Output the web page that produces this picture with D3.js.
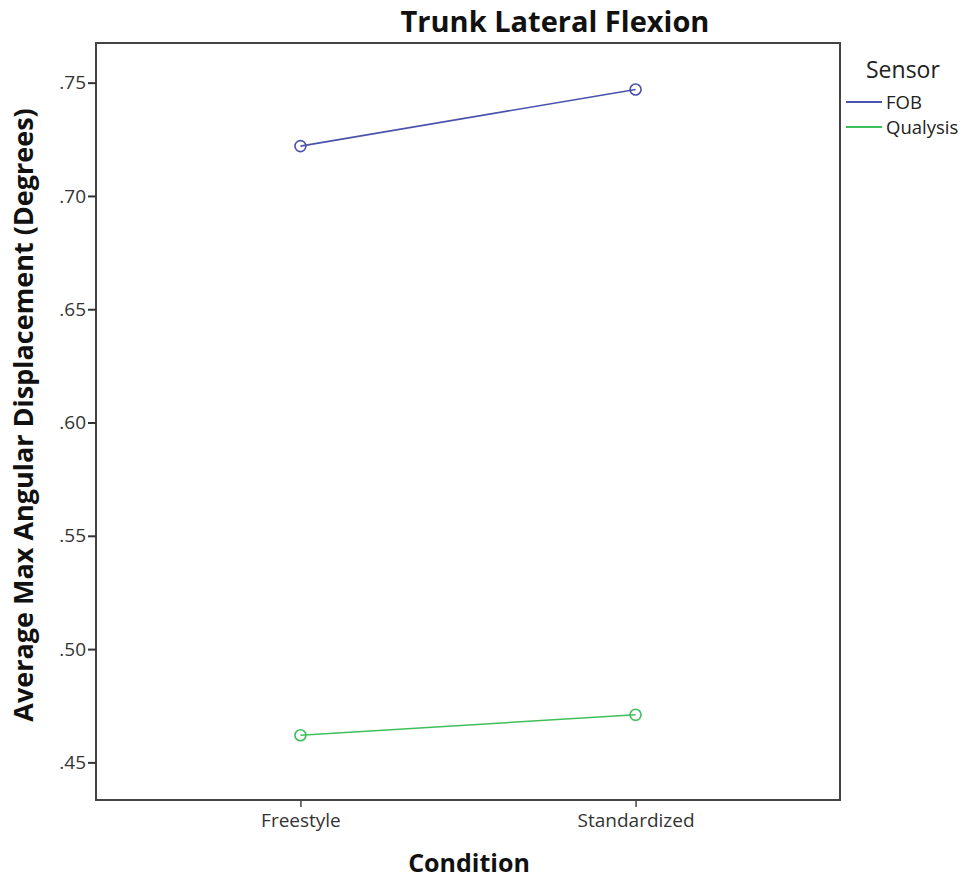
<!DOCTYPE html>
<html><head><meta charset="utf-8">
<script src="https://cdn.jsdelivr.net/npm/d3@7"></script>
<style>body{margin:0;background:#fff}svg{display:block}</style>
</head><body>
<script>
const categories = ["Freestyle", "Standardized"];
const seriesNames = ["FOB", "Qualysis"];
const fobValues = [0.722, 0.747];
const qualysisValues = [0.462, 0.471];
const yTicks = [0.45, 0.50, 0.55, 0.60, 0.65, 0.70, 0.75];
const colors = ["#4a52ad", "#3fbf5a"];

const W = 969, H = 881;
const m = {left: 96, top: 43, right: 840, bottom: 800};
const FONT = "Open Sans, sans-serif";
const svg = d3.select("body").append("svg").attr("width", W).attr("height", H);

const x = d3.scalePoint().domain(categories).range([m.left, m.right]).padding(0.61);
const y = d3.scaleLinear().domain([0.4334, 0.7675]).range([m.bottom, m.top]);

// frame
svg.append("rect").attr("x", m.left).attr("y", m.top).attr("width", m.right - m.left)
  .attr("height", m.bottom - m.top).attr("fill", "none").attr("stroke", "#444").attr("stroke-width", 2);

const fmt = d => d3.format(".2f")(d).replace(/^0/, "");
const yAxis = svg.append("g").attr("transform", `translate(${m.left},0)`)
  .call(d3.axisLeft(y).tickValues(yTicks).tickFormat(fmt).tickSize(8).tickPadding(2));
yAxis.select(".domain").remove();
yAxis.selectAll("line").attr("stroke", "#333").attr("stroke-width", 2);
yAxis.selectAll("text").attr("font-family", FONT).attr("font-size", 19).attr("fill", "#333");

const xAxis = svg.append("g").attr("transform", `translate(0,${m.bottom})`)
  .call(d3.axisBottom(x).tickSize(7).tickPadding(7));
xAxis.select(".domain").remove();
xAxis.selectAll("line").attr("stroke", "#444").attr("stroke-width", 1.5);
xAxis.selectAll("text").attr("font-family", FONT).attr("font-size", 19).attr("fill", "#333");

const series = [fobValues, qualysisValues];
const line = d3.line().x((d, i) => x(categories[i])).y(d => y(d));
series.forEach((vals, s) => {
  svg.append("path").datum(vals).attr("d", line).attr("fill", "none")
    .attr("stroke", colors[s]).attr("stroke-width", 1.6);
  svg.selectAll(null).data(vals).enter().append("circle")
    .attr("cx", (d, i) => x(categories[i])).attr("cy", d => y(d)).attr("r", 5.5)
    .attr("fill", "none").attr("stroke", colors[s]).attr("stroke-width", 1.6);
});

// title
svg.append("text").attr("x", 555).attr("y", 32).attr("text-anchor", "middle")
  .attr("font-family", FONT).attr("font-weight", "bold").attr("font-size", 29)
  .attr("fill", "#111").text("Trunk Lateral Flexion");
// axis titles
svg.append("text").attr("x", 469).attr("y", 872).attr("text-anchor", "middle")
  .attr("font-family", FONT).attr("font-weight", "bold").attr("font-size", 25)
  .attr("fill", "#111").text("Condition");
svg.append("text").attr("transform", "translate(33,415) rotate(-90)").attr("text-anchor", "middle")
  .attr("font-family", FONT).attr("font-weight", "bold").attr("font-size", 27)
  .attr("fill", "#111").text("Average Max  Angular Displacement (Degrees)");

// legend
svg.append("text").attr("x", 866).attr("y", 78).attr("font-family", FONT)
  .attr("font-size", 23).attr("fill", "#222").text("Sensor");
seriesNames.forEach((n, i) => {
  const yy = 102 + i * 25;
  svg.append("line").attr("x1", 846).attr("x2", 882).attr("y1", yy).attr("y2", yy)
    .attr("stroke", colors[i]).attr("stroke-width", 1.8);
  svg.append("text").attr("x", 886).attr("y", yy + 7).attr("font-family", FONT)
    .attr("font-size", 18.5).attr("fill", "#222").text(n);
});
</script>
</body></html>
